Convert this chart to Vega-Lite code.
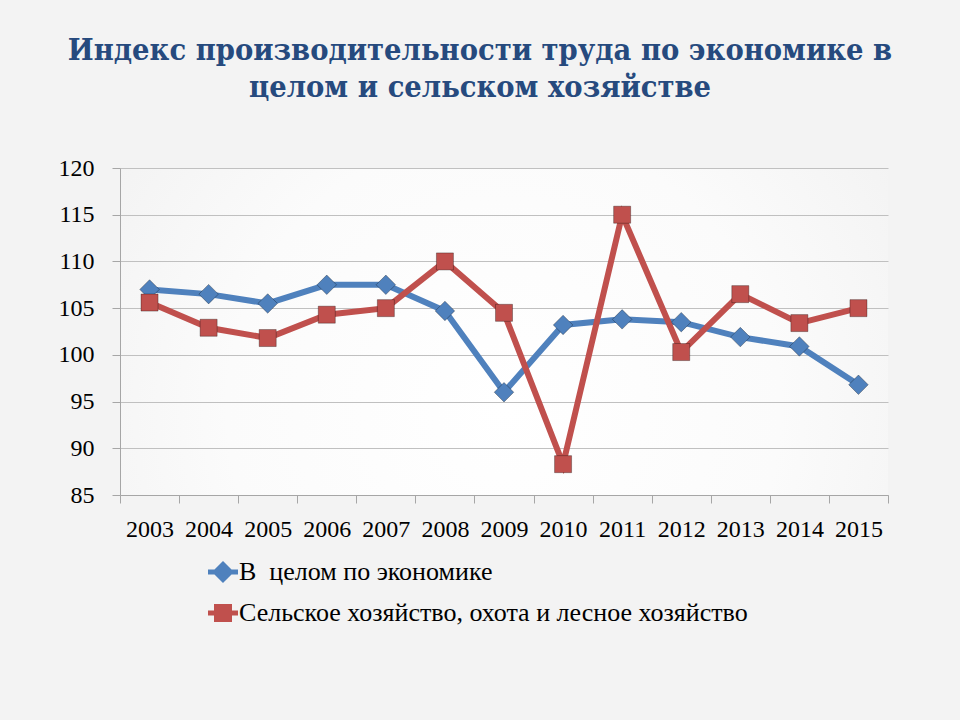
{
  "$schema": "https://vega.github.io/schema/vega-lite/v6.json",
  "width": 768,
  "height": 327,
  "autosize": "none",
  "padding": {"left": 120, "top": 168, "right": 72, "bottom": 225},
  "background": "#f3f3f3",
  "config": {
    "view": {
      "stroke": null,
      "fill": {
        "gradient": "radial",
        "x1": 0.5, "y1": 0.6, "r1": 0,
        "x2": 0.5, "y2": 0.6, "r2": 0.6,
        "stops": [
          {"offset": 0, "color": "#ffffff"},
          {"offset": 0.6, "color": "#fbfbfb"},
          {"offset": 1, "color": "#f3f3f3"}
        ]
      }
    }
  },
  "title": {
    "text": ["Индекс производительности труда по экономике в", "целом и сельском хозяйстве"],
    "font": "DejaVu Serif Condensed",
    "fontSize": 30.5,
    "fontWeight": "bold",
    "color": "#264a7e",
    "anchor": "middle",
    "dx": -24,
    "offset": 53,
    "lineHeight": 37
  },
  "data": {
    "values": [
      {"year": "2003", "series": "В\u00a0 целом по экономике", "value": 107.0},
      {"year": "2004", "series": "В\u00a0 целом по экономике", "value": 106.5},
      {"year": "2005", "series": "В\u00a0 целом по экономике", "value": 105.5},
      {"year": "2006", "series": "В\u00a0 целом по экономике", "value": 107.5},
      {"year": "2007", "series": "В\u00a0 целом по экономике", "value": 107.5},
      {"year": "2008", "series": "В\u00a0 целом по экономике", "value": 104.7},
      {"year": "2009", "series": "В\u00a0 целом по экономике", "value": 96.0},
      {"year": "2010", "series": "В\u00a0 целом по экономике", "value": 103.2},
      {"year": "2011", "series": "В\u00a0 целом по экономике", "value": 103.8},
      {"year": "2012", "series": "В\u00a0 целом по экономике", "value": 103.5},
      {"year": "2013", "series": "В\u00a0 целом по экономике", "value": 101.9},
      {"year": "2014", "series": "В\u00a0 целом по экономике", "value": 100.9},
      {"year": "2015", "series": "В\u00a0 целом по экономике", "value": 96.8},
      {"year": "2003", "series": "Сельское хозяйство, охота и лесное хозяйство", "value": 105.6},
      {"year": "2004", "series": "Сельское хозяйство, охота и лесное хозяйство", "value": 102.9},
      {"year": "2005", "series": "Сельское хозяйство, охота и лесное хозяйство", "value": 101.8},
      {"year": "2006", "series": "Сельское хозяйство, охота и лесное хозяйство", "value": 104.3},
      {"year": "2007", "series": "Сельское хозяйство, охота и лесное хозяйство", "value": 105.0},
      {"year": "2008", "series": "Сельское хозяйство, охота и лесное хозяйство", "value": 110.0},
      {"year": "2009", "series": "Сельское хозяйство, охота и лесное хозяйство", "value": 104.5},
      {"year": "2010", "series": "Сельское хозяйство, охота и лесное хозяйство", "value": 88.3},
      {"year": "2011", "series": "Сельское хозяйство, охота и лесное хозяйство", "value": 115.0},
      {"year": "2012", "series": "Сельское хозяйство, охота и лесное хозяйство", "value": 100.3},
      {"year": "2013", "series": "Сельское хозяйство, охота и лесное хозяйство", "value": 106.5},
      {"year": "2014", "series": "Сельское хозяйство, охота и лесное хозяйство", "value": 103.4},
      {"year": "2015", "series": "Сельское хозяйство, охота и лесное хозяйство", "value": 105.0}
    ]
  },
  "encoding": {
    "x": {
      "field": "year",
      "type": "ordinal",
      "scale": {"type": "band", "paddingInner": 0, "paddingOuter": 0},
      "axis": {
        "title": null,
        "labelAngle": 0,
        "tickBand": "extent",
        "tickSize": 8,
        "tickColor": "#a6a6a6",
        "domainColor": "#a6a6a6",
        "labelFont": "Liberation Serif",
        "labelFontSize": 24,
        "labelColor": "#000000",
        "labelPadding": 14,
        "grid": false
      }
    },
    "y": {
      "field": "value",
      "type": "quantitative",
      "scale": {"domain": [85, 120], "zero": false, "nice": false},
      "axis": {
        "title": null,
        "values": [85, 90, 95, 100, 105, 110, 115, 120],
        "grid": true,
        "gridColor": "#c0c0c0",
        "tickColor": "#a6a6a6",
        "domainColor": "#a6a6a6",
        "tickSize": 8,
        "labelFont": "Liberation Serif",
        "labelFontSize": 24,
        "labelColor": "#000000",
        "labelPadding": 18
      }
    },
    "color": {
      "field": "series",
      "type": "nominal",
      "scale": {"domain": ["В\u00a0 целом по экономике", "Сельское хозяйство, охота и лесное хозяйство"], "range": ["#4f81bd", "#c0504d"]},
      "legend": {
        "title": null,
        "orient": "none",
        "legendX": 90,
        "legendY": 391,
        "direction": "vertical",
        "labelFont": "Liberation Serif",
        "labelFontSize": 26,
        "labelColor": "#000000",
        "symbolSize": 400,
        "symbolStrokeWidth": 5,
        "rowPadding": 6,
        "labelOffset": 3,
        "labelLimit": 700
      }
    }
  },
  "layer": [
    {
      "mark": {"type": "line", "strokeWidth": 6}
    },
    {
      "transform": [{"filter": "datum.series === 'В\u00a0 целом по экономике'"}],
      "mark": {"type": "point", "shape": "diamond", "size": 380, "filled": true, "opacity": 1, "stroke": "rgba(0,0,0,0.3)", "strokeWidth": 1}
    },
    {
      "transform": [{"filter": "datum.series === 'Сельское хозяйство, охота и лесное хозяйство'"}],
      "mark": {"type": "point", "shape": "square", "size": 290, "filled": true, "opacity": 1, "stroke": "rgba(0,0,0,0.3)", "strokeWidth": 1}
    },
    {
      "transform": [{"filter": "false"}],
      "mark": {"type": "point", "filled": true, "opacity": 1, "size": 400},
      "encoding": {
        "stroke": {
          "field": "series",
          "type": "nominal",
          "scale": {"domain": ["В\u00a0 целом по экономике", "Сельское хозяйство, охота и лесное хозяйство"], "range": ["#4f81bd", "#c0504d"]},
          "legend": {
            "title": null,
            "orient": "none",
            "legendX": 90,
            "legendY": 391,
            "direction": "vertical",
            "labelFont": "Liberation Serif",
            "labelFontSize": 26,
            "labelColor": "#000000",
            "symbolSize": 400,
            "symbolStrokeWidth": 5,
            "rowPadding": 6,
            "labelOffset": 3,
            "labelLimit": 700
          }
        },
        "shape": {
          "field": "series",
          "type": "nominal",
          "scale": {
            "domain": ["В\u00a0 целом по экономике", "Сельское хозяйство, охота и лесное хозяйство"],
            "range": [
              "M-1.5,0L-0.6,0M-0.75,0L0,-0.75L0.75,0L0,0.75ZM0.6,0L1.5,0",
              "M-1.5,0L-0.6,0M-0.65,-0.65L0.65,-0.65L0.65,0.65L-0.65,0.65ZM0.6,0L1.5,0"
            ]
          },
          "legend": {
            "title": null,
            "orient": "none",
            "legendX": 90,
            "legendY": 391,
            "direction": "vertical",
            "labelFont": "Liberation Serif",
            "labelFontSize": 26,
            "labelColor": "#000000",
            "symbolSize": 400,
            "symbolStrokeWidth": 5,
            "rowPadding": 6,
            "labelOffset": 3,
            "labelLimit": 700
          }
        }
      }
    }
  ]
}
